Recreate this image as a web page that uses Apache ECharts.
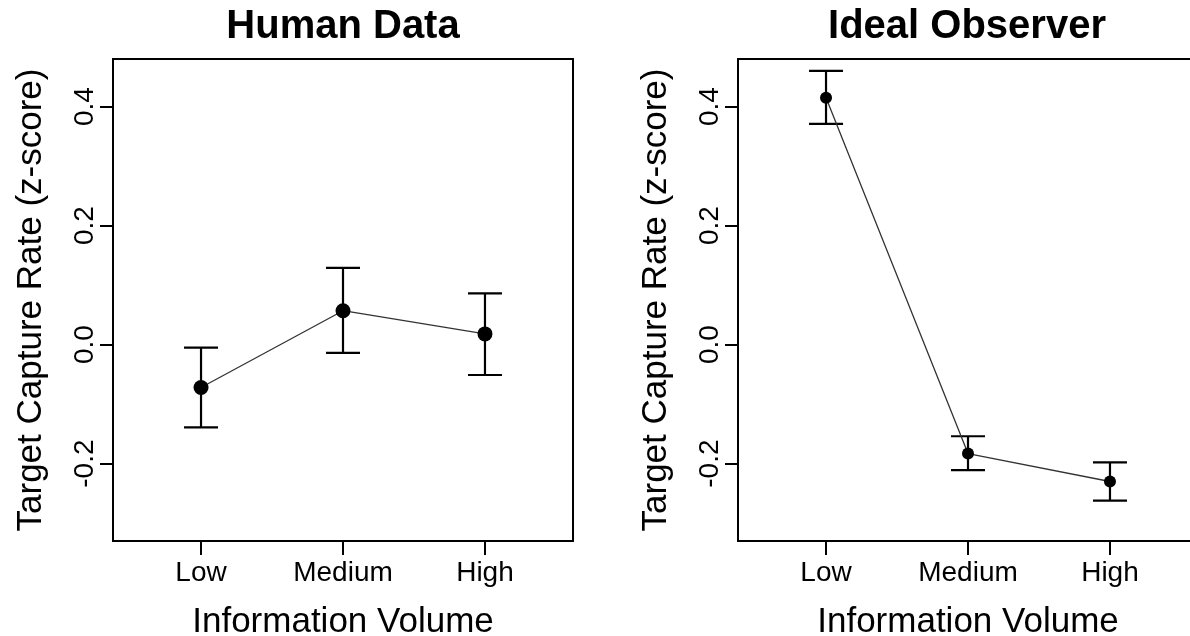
<!DOCTYPE html>
<html>
<head>
<meta charset="utf-8">
<script src="https://cdn.jsdelivr.net/npm/echarts@6/dist/echarts.min.js"></script>
<style>
html,body{margin:0;padding:0;background:#fff;}
#chart{width:1190px;height:636px;}
</style>
</head>
<body>
<div id="chart"></div>
<script>
const categories = ['Low', 'Medium', 'High'];
const categoryPos = [1, 2, 3];
const yTicks = [-0.2, 0, 0.2, 0.4];

const humanMean  = [-0.072, 0.057, 0.018];
const humanLower = [-0.139, -0.014, -0.051];
const humanUpper = [-0.005, 0.129, 0.086];

const idealMean  = [0.415, -0.183, -0.230];
const idealLower = [0.371, -0.211, -0.262];
const idealUpper = [0.460, -0.154, -0.198];

const titles = ['Human Data', 'Ideal Observer'];
const xTitle = 'Information Volume';
const yTitle = 'Target Capture Rate (z-score)';

const FONT = '"Liberation Sans", Arial, sans-serif';

function xAxisFor(i) {
  return {
    type: 'value', gridIndex: i, min: 0.38, max: 3.62,
    axisLine: {show: false, onZero: false},
    splitLine: {show: false},
    axisTick: {show: true, length: 14, lineStyle: {color: '#000', width: 2}, customValues: categoryPos},
    axisLabel: {
      customValues: categoryPos, margin: 18, color: '#000', fontSize: 28, fontFamily: FONT,
      formatter: v => categories[Math.round(v) - 1] || ''
    },
    name: xTitle, nameLocation: 'middle', nameGap: 64,
    nameTextStyle: {color: '#000', fontSize: 35, fontFamily: FONT}
  };
}
function yAxisFor(i) {
  return {
    type: 'value', gridIndex: i, min: -0.33, max: 0.48,
    axisLine: {show: false, onZero: false},
    splitLine: {show: false},
    axisTick: {show: true, length: 13, lineStyle: {color: '#000', width: 2}, customValues: yTicks},
    axisLabel: {
      customValues: yTicks, rotate: 90, margin: 14, color: '#000', fontSize: 28, fontFamily: FONT,
      formatter: v => v.toFixed(1)
    },
    name: yTitle, nameLocation: 'middle', nameGap: 64,
    nameTextStyle: {color: '#000', fontSize: 35, fontFamily: FONT}
  };
}
function errorSeries(i, lower, upper) {
  return {
    type: 'custom', xAxisIndex: i, yAxisIndex: i, z: 3,
    data: categoryPos.map((x, k) => [x, lower[k], upper[k]]),
    renderItem: function (params, api) {
      const lo = api.coord([api.value(0), api.value(1)]);
      const hi = api.coord([api.value(0), api.value(2)]);
      const hw = 17;
      const style = {stroke: '#000', lineWidth: 2.2};
      return {
        type: 'group',
        children: [
          {type: 'line', shape: {x1: lo[0], y1: lo[1], x2: hi[0], y2: hi[1]}, style},
          {type: 'line', shape: {x1: lo[0] - hw, y1: lo[1], x2: lo[0] + hw, y2: lo[1]}, style},
          {type: 'line', shape: {x1: hi[0] - hw, y1: hi[1], x2: hi[0] + hw, y2: hi[1]}, style}
        ]
      };
    }
  };
}
function lineSeries(i, mean, size) {
  return {
    type: 'line', xAxisIndex: i, yAxisIndex: i, z: 4,
    data: categoryPos.map((x, k) => [x, mean[k]]),
    symbol: 'circle', symbolSize: size, showSymbol: true,
    lineStyle: {color: '#333', width: 1.3},
    itemStyle: {color: '#000'},
    animation: false
  };
}

const chart = echarts.init(document.getElementById('chart'), null, {renderer: 'canvas'});
chart.setOption({
  animation: false,
  backgroundColor: '#fff',
  title: [
    {text: titles[0], left: 343, top: 7, textAlign: 'center', padding: 0,
     textStyle: {fontSize: 40, fontWeight: 'bold', color: '#000', fontFamily: FONT}},
    {text: titles[1], left: 967, top: 7, textAlign: 'center', padding: 0,
     textStyle: {fontSize: 40, fontWeight: 'bold', color: '#000', fontFamily: FONT}}
  ],
  grid: [
    {left: 113, top: 59, width: 460, height: 482, show: true, borderColor: '#000', borderWidth: 2,
     backgroundColor: 'transparent', containLabel: false, outerBoundsMode: 'none'},
    {left: 738, top: 59, width: 460, height: 482, show: true, borderColor: '#000', borderWidth: 2,
     backgroundColor: 'transparent', containLabel: false, outerBoundsMode: 'none'}
  ],
  xAxis: [xAxisFor(0), xAxisFor(1)],
  yAxis: [yAxisFor(0), yAxisFor(1)],
  series: [
    errorSeries(0, humanLower, humanUpper),
    lineSeries(0, humanMean, 15),
    errorSeries(1, idealLower, idealUpper),
    lineSeries(1, idealMean, 12)
  ]
});
</script>
</body>
</html>
